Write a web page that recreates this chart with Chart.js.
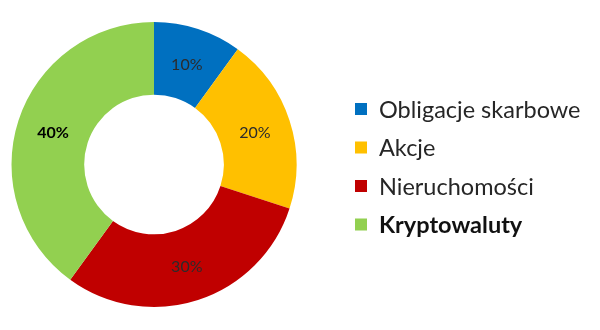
<!DOCTYPE html>
<html>
<head>
<meta charset="utf-8">
<script src="https://cdn.jsdelivr.net/npm/chart.js@4"></script>
<style>
  html, body { margin: 0; padding: 0; background: #fff; }
  #wrap { width: 600px; height: 330px; }
</style>
</head>
<body>
<div id="wrap"><canvas id="chart" width="600" height="330"></canvas></div>
<script>
const labels = ["Obligacje skarbowe", "Akcje", "Nieruchomości", "Kryptowaluty"];
const shares = [10, 20, 30, 40];
const colors = ["#0070C0", "#FFC000", "#C00000", "#92D050"];
const boldItems = ["Kryptowaluty"];

// percent labels inside the ring
const sliceLabels = {
    id: "sliceLabels",
    afterDatasetsDraw(chart) {
        const ctx = chart.ctx;
        const meta = chart.getDatasetMeta(0);
        ctx.save();
        ctx.textAlign = "center";
        ctx.textBaseline = "middle";
        meta.data.forEach((arc, i) => {
            const mid = (arc.startAngle + arc.endAngle) / 2;
            const r = (arc.innerRadius + arc.outerRadius) / 2;
            const x = arc.x + Math.cos(mid) * r;
            const y = arc.y + Math.sin(mid) * r;
            const bold = boldItems.includes(labels[i]);
            ctx.font = (bold ? "bold " : "") + "16px Lato";
            ctx.fillStyle = bold ? "#000" : "#2b2b2b";
            ctx.fillText(shares[i] + "%", x, y + 1);
        });
        ctx.restore();
    }
};

// legend on the right, last entry bold
const sideLegend = {
    id: "sideLegend",
    afterDraw(chart) {
        const ctx = chart.ctx;
        ctx.save();
        ctx.textBaseline = "middle";
        labels.forEach((name, i) => {
            const y = 109 + i * 38.5;
            ctx.fillStyle = colors[i];
            ctx.fillRect(355, y - 6, 12, 12);
            const bold = boldItems.includes(name);
            ctx.font = (bold ? "bold " : "") + "23.5px Lato";
            ctx.fillStyle = bold ? "#111" : "#262626";
            ctx.fillText(name, 379, y + 1);
        });
        ctx.restore();
    }
};

new Chart(document.getElementById("chart"), {
    type: "doughnut",
    data: {
        labels: labels,
        datasets: [{
            data: shares,
            backgroundColor: colors,
            borderWidth: 0
        }]
    },
    options: {
        responsive: false,
        animation: false,
        cutout: "49%",
        layout: { padding: { left: 11, right: 303, top: 22, bottom: 23 } },
        plugins: {
            legend: { display: false },
            tooltip: { enabled: false }
        }
    },
    plugins: [sliceLabels, sideLegend]
});
</script>
</body>
</html>
